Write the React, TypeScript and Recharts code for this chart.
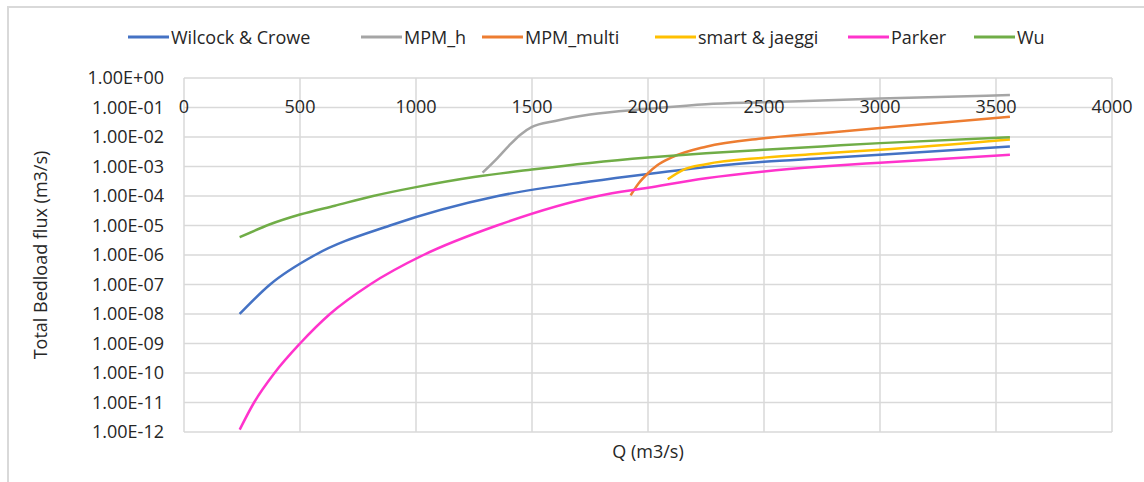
import { LineChart, Line, XAxis, YAxis, CartesianGrid, Legend } from 'recharts';

// discharge (m3/s) and bedload flux (m3/s), per formula
const qWilcock = [240, 371, 565, 888, 1353, 1750, 2000, 2274, 2500, 2750, 3000, 3560];
const wilcock = [1e-8, 1e-7, 1e-6, 1e-5, 1e-4, 3.1e-4, 5.6e-4, 1e-3, 1.45e-3, 1.9e-3, 2.5e-3, 4.8e-3];

const qMpmH = [1287, 1350, 1400, 1450, 1500, 1600, 1750, 2000, 2250, 2500, 3000, 3560];
const mpmH = [6.2e-4, 1.9e-3, 5e-3, 1.2e-2, 2.2e-2, 3.5e-2, 5.8e-2, 9e-2, 0.13, 0.15, 0.2, 0.265];

const qMpmMulti = [1925, 1960, 2000, 2040, 2100, 2250, 2500, 2750, 3000, 3560];
const mpmMulti = [1.05e-4, 2.7e-4, 5.9e-4, 1.1e-3, 2.0e-3, 4.7e-3, 9.1e-3, 1.35e-2, 2.0e-2, 4.9e-2];

const qSmart = [2085, 2150, 2250, 2500, 2750, 3000, 3560];
const smart = [3.7e-4, 7.6e-4, 1.2e-3, 2.0e-3, 2.75e-3, 3.7e-3, 8.3e-3];

const qParker = [240, 302, 390, 500, 629, 802, 1032, 1349, 1785, 2000, 2250, 2500, 2750, 3000, 3560];
const parker = [1.2e-12, 1e-11, 1e-10, 1e-9, 1e-8, 1e-7, 1e-6, 1e-5, 1e-4, 1.9e-4, 4.0e-4, 6.8e-4, 1.0e-3, 1.35e-3, 2.5e-3];

const qWu = [240, 371, 500, 650, 815, 1000, 1250, 1500, 1750, 2000, 2250, 2500, 2750, 3000, 3560];
const wu = [4e-6, 1.1e-5, 2.35e-5, 4.7e-5, 1e-4, 2e-4, 4.4e-4, 7.9e-4, 1.32e-3, 2e-3, 2.8e-3, 3.7e-3, 4.8e-3, 6.2e-3, 9.8e-3];

const xTicks = [0, 500, 1000, 1500, 2000, 2500, 3000, 3500, 4000];
const yTicks = [1, 1e-1, 1e-2, 1e-3, 1e-4, 1e-5, 1e-6, 1e-7, 1e-8, 1e-9, 1e-10, 1e-11, 1e-12];

const toPoints = (qs: number[], vs: number[]) => qs.map((q, i) => ({ q, v: vs[i] }));

const series = [
  { name: 'Wilcock & Crowe', color: '#4472C4', data: toPoints(qWilcock, wilcock) },
  { name: 'MPM_h', color: '#A5A5A5', data: toPoints(qMpmH, mpmH) },
  { name: 'MPM_multi', color: '#ED7D31', data: toPoints(qMpmMulti, mpmMulti) },
  { name: 'smart & jaeggi', color: '#FFC000', data: toPoints(qSmart, smart) },
  { name: 'Parker', color: '#FF33CC', data: toPoints(qParker, parker) },
  { name: 'Wu', color: '#70AD47', data: toPoints(qWu, wu) },
];

// left edge of each legend key, as placed in the original
const legendLeft = [128, 361, 482, 655, 848, 974];

const FONT = '"Open Sans", sans-serif';
const TXT = '#262626';

function fmtE(v: number) {
  const e = Math.round(Math.log10(v));
  const m = v / Math.pow(10, e);
  const sign = e < 0 ? '-' : '+';
  return `${m.toFixed(2)}E${sign}${String(Math.abs(e)).padStart(2, '0')}`;
}

function XTick(props: any) {
  const { x, payload } = props;
  return (
    <text x={x} y={106} textAnchor="middle" dominantBaseline="central" fontSize={18} fontFamily={FONT} fill={TXT}>
      {payload.value}
    </text>
  );
}

function LegendBox() {
  return (
    <div style={{ position: 'relative', width: 1144, height: 24, fontFamily: FONT, fontSize: 18, color: TXT, whiteSpace: 'nowrap' }}>
      {series.map((s, i) => (
        <div key={s.name} style={{ position: 'absolute', left: legendLeft[i], top: 0, height: 24, display: 'flex', alignItems: 'center' }}>
          <svg width={41} height={4} style={{ marginRight: 2 }}>
            <line x1={0} y1={2} x2={41} y2={2} stroke={s.color} strokeWidth={3} />
          </svg>
          <span>{s.name}</span>
        </div>
      ))}
    </div>
  );
}

export default function App() {
  return (
    <div style={{ position: 'absolute', left: 0, top: 0, width: 1144, height: 482, background: '#fff', overflow: 'hidden' }}>
      <div style={{ position: 'absolute', left: 7, top: 6, width: 1160, height: 500, border: '2px solid #d9d9d9' }} />
      <LineChart
        width={1144}
        height={482}
        margin={{ top: 77, right: 32, bottom: 50, left: 100 }}
        style={{ position: 'absolute', left: 0, top: 0 }}
      >
        <CartesianGrid stroke="#d9d9d9" strokeWidth={1.5} />
        <XAxis
          xAxisId={0}
          dataKey="q"
          type="number"
          domain={[0, 4000]}
          ticks={xTicks}
          interval={0}
          orientation="top"
          height={1}
          axisLine={false}
          tickLine={false}
          tick={(p: any) => <XTick {...p} />}
          allowDataOverflow
          label={{
            content: () => (
              <text x={648} y={451} textAnchor="middle" dominantBaseline="central" fontSize={18} fontFamily={FONT} fill={TXT}>
                Q (m3/s)
              </text>
            ),
          }}
        />
        <YAxis
          yAxisId={0}
          type="number"
          scale="log"
          domain={[1e-12, 1]}
          ticks={yTicks}
          width={84}
          axisLine={false}
          tickLine={false}
          tickSize={0}
          tickMargin={20}
          allowDataOverflow
          tickFormatter={fmtE}
          tick={{ fontSize: 18, fontFamily: FONT, fill: TXT }}
          interval={0}
          label={{
            content: () => (
              <text
                x={40}
                y={255}
                transform="rotate(-90, 40, 255)"
                textAnchor="middle"
                dominantBaseline="central"
                fontSize={18}
                fontFamily={FONT}
                fill={TXT}
              >
                Total Bedload flux (m3/s)
              </text>
            ),
          }}
        />
        <Legend
          layout="horizontal"
          align="center"
          verticalAlign="middle"
          content={<LegendBox />}
          wrapperStyle={{ position: 'absolute', top: 25, left: 0, width: 1144 }}
        />
        {series.map((s) => (
          <Line
            key={s.name}
            name={s.name}
            data={s.data}
            dataKey="v"
            type="monotone"
            stroke={s.color}
            strokeWidth={2.5}
            dot={false}
            isAnimationActive={false}
          />
        ))}
      </LineChart>
    </div>
  );
}
